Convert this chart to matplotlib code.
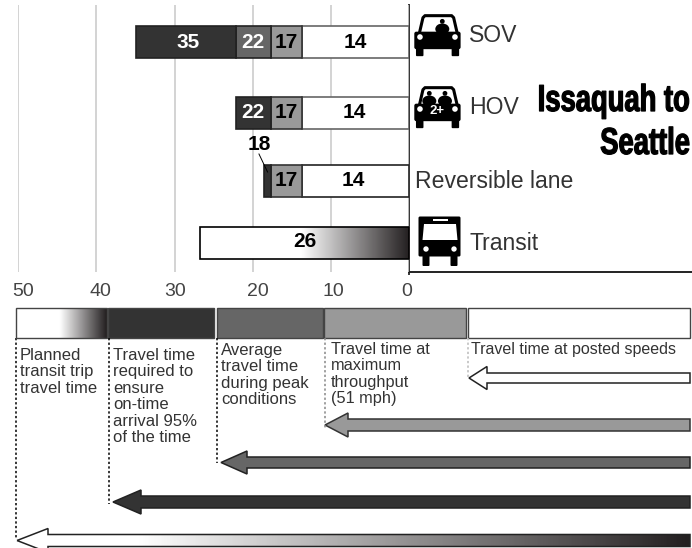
import numpy as np
import matplotlib
matplotlib.use("Agg")
import matplotlib.pyplot as plt
import matplotlib.patheffects as pe
from matplotlib.patches import Polygon, Rectangle, FancyBboxPatch, Circle, Ellipse
from matplotlib.colors import LinearSegmentedColormap
from matplotlib.transforms import Affine2D, ScaledTranslation

plt.rcParams["font.family"] = ["Liberation Sans", "DejaVu Sans"]

# data, minutes
modes = ["SOV", "HOV", "Reversible lane", "Transit"]
posted_speed = [13.75, 13.75, 13.75, 0]
max_throughput = [17.6, 17.6, 17.6, 0]
peak_average = [22.1, 0, 0, 0]
reliable_95 = [34.9, 22.1, 18.6, 0]
planned_transit = [0, 0, 0, 26.8]
ticks = [50, 40, 30, 20, 10, 0]

posted_labels = ["14", "14", "14"]
throughput_labels = ["17", "17", "17"]
peak_label = "22"
reliable_labels = ["35", "22"]
rev_label = "18"
transit_label = "26"

DARK = "#333333"
MID = "#666666"
LIGHT = "#999999"
W, H = 692, 548

fade = LinearSegmentedColormap.from_list("fade", ["#ffffff", "#231f20"])

fig = plt.figure(figsize=(W / 100, H / 100), dpi=100)

# page axes in pixels, for the key and the icons
page = fig.add_axes([0, 0, 1, 1])
page.set_xlim(0, W)
page.set_ylim(H, 0)
page.axis("off")

# chart axes: 50 at x=18, 0 at x=409
ax = fig.add_axes([18.3 / W, 1 - 272 / H, (409 - 18.3) / W, 267 / H])
ax.set_xlim(50, 0)
ax.set_ylim(272, 5)
ax.patch.set_alpha(0)
for s in ["top", "bottom", "left", "right"]:
    ax.spines[s].set_visible(False)
ax.set_xticks(ticks)
ax.set_yticks([])
ax.tick_params(axis="x", length=0, labelsize=14, labelcolor="#444444", pad=8)
ax.grid(axis="x", color="#cccccc", lw=1.2)
ax.set_axisbelow(True)

# the tick labels sit a little off their gridlines in the original
tick_nudge = [4.5, 4, 1, 5, 3, -2]
for tl, dx in zip(ax.get_xticklabels(), tick_nudge):
    tl.set_transform(tl.get_transform() + ScaledTranslation(dx / 100, 0, fig.dpi_scale_trans))

y_pos = [42, 113, 180.5, 243]
bar_h = 32


def bar_row(i, right, left, color, edge):
    ax.barh(y_pos[i], left - right, left=right, height=bar_h, color=color, edgecolor=edge, lw=1.2, zorder=3)


edges = [MID, MID, "#222222"]
for i in range(3):
    bar_row(i, 0, posted_speed[i], "white", edges[i])
    bar_row(i, posted_speed[i], max_throughput[i], LIGHT, "#333333")
bar_row(0, max_throughput[0], peak_average[0], MID, "#222222")
bar_row(0, peak_average[0], reliable_95[0], DARK, "#222222")
bar_row(1, max_throughput[1], reliable_95[1], DARK, "#222222")
bar_row(2, max_throughput[2], reliable_95[2], DARK, "#222222")

grad = np.linspace(0, 1, 256).reshape(1, -1)
tr = planned_transit[3]
im = ax.imshow(np.clip((grad - 0.48) / 0.52, 0, 1), cmap=fade, aspect="auto", zorder=3,
               extent=(tr, 0, y_pos[3] + bar_h / 2, y_pos[3] - bar_h / 2))
ax.add_patch(Rectangle((0, y_pos[3] - bar_h / 2), tr, bar_h, fill=False, ec="black", lw=1.2, zorder=4))
ax.set_xlim(50, 0)
ax.set_ylim(272, 5)

lab = dict(ha="center", va="center", fontsize=15, fontweight="bold", zorder=5)
for i in range(3):
    ax.text(posted_speed[i] / 2 + [0, 0.1, 0.2][i], y_pos[i], posted_labels[i], color="black", **lab)
    ax.text((posted_speed[i] + max_throughput[i]) / 2, y_pos[i], throughput_labels[i], color="black", **lab)
ax.text(20, y_pos[0], peak_label, color="white", **lab)
ax.text(20, y_pos[1], reliable_labels[1], color="white", **lab)
ax.text(28.3, y_pos[0], reliable_labels[0], color="white", **lab)
ax.text(19.2, 145, rev_label, color="black", **lab)
ax.plot([19.2, 18.1], [154, 172], color="black", lw=0.7, zorder=6)
ax.text(13.3, 241, transit_label, color="black", **lab)

# axis lines
page.plot([409, 409], [5, 274], color="#333333", lw=1.4, zorder=6)
page.plot([409, 692], [272, 272], color="#222222", lw=1.4, zorder=6)


# icons, drawn in zoomed reference units
def car(x0, y0, people, plus=False):
    def P(x, y):
        return (x0 + x / 3, y0 + y / 3)
    page.add_patch(Polygon([P(14, 60), P(26, 8), P(32, 2), P(112, 2), P(118, 8), P(130, 60)],
                           closed=True, fc="white", ec="black", lw=2.2, joinstyle="round", zorder=6))
    for px in people:
        page.add_patch(Circle(P(px, 19), 2.4, fc="black", zorder=7))
        page.add_patch(Ellipse(P(px, 42), 14, 11, fc="black", zorder=7))
    x, y = P(0, 50)
    page.add_patch(FancyBboxPatch((x + 2, y + 2), 42.3, 13.5, boxstyle="round,pad=2", fc="black", ec="none", zorder=7))
    for wx in (5, 112):
        x, y = P(wx, 95)
        page.add_patch(FancyBboxPatch((x + 1, y + 1), 5.5, 7.5, boxstyle="round,pad=1", fc="black", ec="none", zorder=7))
    for lx in (17, 122):
        page.add_patch(Circle(P(lx, 66), 2.8, fc="white", zorder=8))
    if plus:
        x, y = P(67, 73)
        page.text(x, y, "2+", color="white", fontsize=9.5, fontweight="bold", ha="center", va="center", zorder=9)


car(414.3, 15, [84])
car(414.3, 87, [45, 92], plus=True)

# bus
page.add_patch(FancyBboxPatch((420, 218), 39, 37, boxstyle="round,pad=1.5", fc="black", ec="none", zorder=6))
page.add_patch(Polygon([(422.5, 240), (424, 224), (456, 224), (457.5, 240)], closed=True, fc="white", ec="none", zorder=7))
page.add_patch(Rectangle((433, 219), 15, 2, fc="white", ec="none", zorder=7))
for lx in (426, 454):
    page.add_patch(Circle((lx, 249), 2.7, fc="white", zorder=8))
    page.add_patch(FancyBboxPatch((lx - 2.5, 256), 5, 9, boxstyle="round,pad=1", fc="black", ec="none", zorder=7))

labels_right = dict(fontsize=16.6, color="#333333", va="center", ha="left")
page.text(469, 35, modes[0], **labels_right)
page.text(469, 108, modes[1], **labels_right)
page.text(415, 181, modes[2], **labels_right)
page.text(469, 244, modes[3], **labels_right)


# no condensed heavy font here, so squeeze the glyphs sideways about the right edge
class Squeeze(pe.AbstractPathEffect):
    def __init__(self, right_px, sx, stroke):
        super().__init__()
        self.right_px = right_px
        self.sx = sx
        self.stroke = stroke

    def draw_path(self, renderer, gc, tpath, affine, rgbFace=None):
        squeeze = Affine2D().translate(-self.right_px, 0).scale(self.sx, 1).translate(self.right_px, 0)
        gc0 = renderer.new_gc()
        gc0.copy_properties(gc)
        gc0.set_linewidth(self.stroke)
        gc0.set_foreground(rgbFace)
        renderer.draw_path(gc0, tpath, affine + squeeze, rgbFace)
        gc0.restore()


title_kw = dict(fontweight="bold", fontsize=27, ha="right", va="center", color="black", zorder=8,
                path_effects=[Squeeze(690, 0.73, 0.9)])
page.text(690, 101, "Issaquah to", **title_kw)
page.text(690, 144, "Seattle", **title_kw)

# key strip
key_spans = [(16, 107), (108, 214), (217, 323), (324, 466), (468, 690)]
key_colors = [None, DARK, MID, LIGHT, "white"]
for (a, b), c in zip(key_spans, key_colors):
    if c is not None:
        page.add_patch(Rectangle((a, 308), b - a, 30, fc=c, ec="#444444", lw=1.0))
a, b = key_spans[0]
page.imshow(np.clip((grad - 0.48) / 0.52, 0, 1), cmap=fade, aspect="auto", extent=(a, b, 338, 308), zorder=2)
page.add_patch(Rectangle((a, 308), b - a, 30, fill=False, ec="#444444", lw=1.0, zorder=3))
page.set_xlim(0, W)
page.set_ylim(H, 0)

key_text = [
    (20, 348, "Planned\ntransit trip\ntravel time", 12),
    (113, 348, "Travel time\nrequired to\nensure\non-time\narrival 95%\nof the time", 12),
    (221, 343, "Average\ntravel time\nduring peak\nconditions", 12),
    (331, 342, "Travel time at\nmaximum\nthroughput\n(51 mph)", 11.8),
    (471, 342, "Travel time at posted speeds", 11.5),
]
for x, y, t, size in key_text:
    page.text(x, y, t, fontsize=size, color="#333333", va="top", ha="left", linespacing=1.12)

# dotted leaders
leaders = [(16, 538, "black"), (108.5, 504, "black"), (217, 463, "black"), (324.5, 428, "#888888"), (468, 377, "#bbbbbb")]
for x, y, c in leaders:
    page.plot([x, x], [338, y], color=c, lw=1.1, ls=(0, (1.5, 1.5)))


# key arrows
def arrow_points(tip, neck, yc, half_shaft, half_head):
    return [(tip, yc), (neck, yc - half_head), (neck, yc - half_shaft), (690, yc - half_shaft),
            (690, yc + half_shaft), (neck, yc + half_shaft), (neck, yc + half_head)]


page.add_patch(Polygon(arrow_points(469, 487, 378, 5, 11.5), closed=True, fc="white", ec="#222222", lw=1.1))
page.add_patch(Polygon(arrow_points(325, 348, 425, 6, 12), closed=True, fc=LIGHT, ec="#333333", lw=1.1))
page.add_patch(Polygon(arrow_points(221, 247, 462.5, 5.5, 11.5), closed=True, fc=MID, ec="#222222", lw=1.1))
page.add_patch(Polygon(arrow_points(113, 141, 502, 6, 12), closed=True, fc=DARK, ec="#222222", lw=1.1))

last = Polygon(arrow_points(17, 48, 540.5, 6, 12), closed=True, fc="none", ec="#222222", lw=1.1, zorder=3)
page.add_patch(last)
band = page.imshow(np.clip((grad - 0.18) / 0.82, 0, 1), cmap=fade, aspect="auto", extent=(17, 690, 553, 528), zorder=2)
band.set_clip_path(last)
page.set_xlim(0, W)
page.set_ylim(H, 0)

fig.savefig("out.png", dpi=100)
